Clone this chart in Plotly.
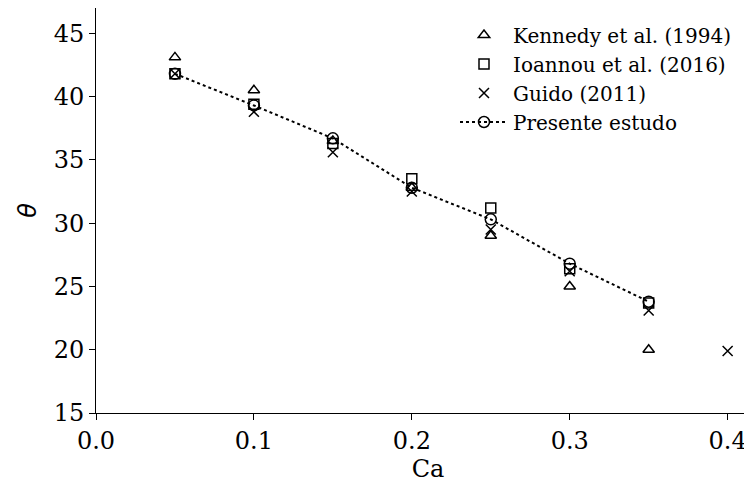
import plotly.graph_objects as go

ca_kennedy = [0.05, 0.10, 0.15, 0.20, 0.25, 0.30, 0.35]
theta_kennedy = [43.1, 40.5, 36.5, 32.8, 29.0, 25.0, 20.0]

ca_ioannou = [0.05, 0.10, 0.15, 0.20, 0.25, 0.30, 0.35]
theta_ioannou = [41.8, 39.4, 36.3, 33.5, 31.2, 26.4, 23.7]

ca_guido = [0.05, 0.10, 0.15, 0.20, 0.25, 0.30, 0.35, 0.40]
theta_guido = [41.8, 38.8, 35.6, 32.5, 29.5, 26.2, 23.1, 19.9]

ca_presente = [0.05, 0.10, 0.15, 0.20, 0.25, 0.30, 0.35]
theta_presente = [41.8, 39.3, 36.7, 32.8, 30.3, 26.8, 23.8]

x_ticks = [0.0, 0.1, 0.2, 0.3, 0.4]
y_ticks = [15, 20, 25, 30, 35, 40, 45]

SERIF = "DejaVu Serif"
MLINE = dict(width=1.5, color="black")

fig = go.Figure()
fig.add_trace(go.Scatter(x=ca_kennedy, y=theta_kennedy, mode="markers", name="Kennedy et al. (1994)",
                         legend="legend",
                         marker=dict(symbol="triangle-up-open", size=10, color="black", line=MLINE)))
fig.add_trace(go.Scatter(x=ca_ioannou, y=theta_ioannou, mode="markers", name="Ioannou et al. (2016)",
                         legend="legend2",
                         marker=dict(symbol="square-open", size=10, color="black", line=MLINE)))
fig.add_trace(go.Scatter(x=ca_guido, y=theta_guido, mode="markers", name="Guido (2011)",
                         legend="legend3",
                         marker=dict(symbol="x-thin-open", size=10, color="black", line=MLINE)))
fig.add_trace(go.Scatter(x=ca_presente, y=theta_presente, mode="lines+markers", name="Presente estudo",
                         legend="legend4",
                         line=dict(color="black", width=2, dash="dot"),
                         marker=dict(symbol="circle-open", size=11, color="black", line=MLINE)))

PLOT_W = 664
PLOT_H = 405

def leg(ypix):
    # ypix: row centre in page pixels (plot top at page 8, left at page 96)
    return dict(x=(455 - 96) / PLOT_W, y=1 - (ypix - 8) / PLOT_H, xanchor="left", yanchor="middle",
                bgcolor="rgba(0,0,0,0)", font=dict(family=SERIF, size=20), itemwidth=48,
                borderwidth=0)

fig.update_layout(
    width=752, height=484,
    margin=dict(l=88, r=0, t=0, b=484 - PLOT_H, autoexpand=False),
    plot_bgcolor="white", paper_bgcolor="white",
    font=dict(family=SERIF, color="black", size=24),
    showlegend=True,
    legend=leg(35), legend2=leg(64), legend3=leg(93), legend4=leg(122),
    xaxis=dict(range=[0, 0.4205], tickvals=x_ticks, tickformat=".1f", showgrid=False, zeroline=False,
               showline=True, linecolor="black", linewidth=1, mirror=True, automargin=False,
               ticks="outside", ticklen=6, tickcolor="black",
               title=dict(text="Ca", font=dict(family=SERIF, size=24), standoff=6),
               tickfont=dict(family=SERIF, size=24)),
    yaxis=dict(range=[15, 47], tickvals=y_ticks, showgrid=False, zeroline=False,
               showline=True, linecolor="black", linewidth=1, automargin=False,
               ticks="outside", ticklen=6, tickcolor="black",
               title=dict(text="<i>θ</i>", font=dict(family="DejaVu Sans", size=24), standoff=10),
               tickfont=dict(family=SERIF, size=24)),
)

fig.write_html("out.html")
